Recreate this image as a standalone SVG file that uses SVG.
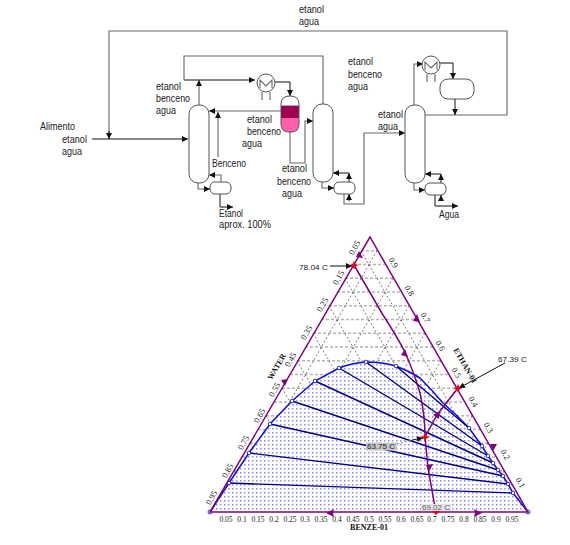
<svg xmlns="http://www.w3.org/2000/svg" width="570" height="545" viewBox="0 0 570 545">
<style>
.t{font-family:"Liberation Sans",Arial,sans-serif;font-size:11px;fill:#222}
.n{font-family:"Liberation Serif","Times New Roman",serif;font-size:7.5px;fill:#222;text-anchor:middle}
.m{font-size:8.5px}
.b{font-family:"Liberation Serif","Times New Roman",serif;font-size:8px;font-weight:bold;fill:#111;text-anchor:middle}
.c{font-family:"Liberation Sans",Arial,sans-serif;font-size:7px;fill:#222}
.l{fill:none;stroke:#666;stroke-width:1.1}
.k{fill:none;stroke:#111;stroke-width:1}
.u{fill:#fff;stroke:#555;stroke-width:1}
.p{fill:none;stroke:#800080;stroke-width:1.5}
.tie{fill:none;stroke:#00008c;stroke-width:1.4}
.e{fill:#fff;stroke:#0000e0;stroke-width:.8}
.pa{fill:#800080}
.s{fill:#f00010}
</style>
<defs>
<marker id="a" viewBox="0 0 6 6" refX="6" refY="3" markerWidth="6" markerHeight="6" orient="auto" markerUnits="userSpaceOnUse"><path d="M0 0L6 3L0 6Z" fill="#111"/></marker>
<pattern id="dots" width="4" height="4" patternUnits="userSpaceOnUse"><rect width="4" height="4" fill="#fff"/><rect width="1.5" height="1.5" fill="#8c8cf8"/></pattern>
</defs>
<g id="connectors">
<path class="l" d="M109 138V31H507V115H425"/>
<path class="k" d="M92 139H188" marker-end="url(#a)"/>
<path class="k" d="M109 131V139" marker-end="url(#a)"/>
<path class="l" d="M199 105V80" marker-end="url(#a)"/>
<path class="k" d="M184 80H255" marker-end="url(#a)"/>
<path class="l" d="M184 80V56H323V104"/>
<path class="k" d="M275 82H290V96" marker-end="url(#a)"/>
<path class="l" d="M281 111H209" marker-end="url(#a)"/>
<path class="l" d="M218 157V112" marker-end="url(#a)"/>
<path class="l" d="M290 132V163H305V121H313" marker-end="url(#a)"/>
<path class="l" d="M198 183V189H210" marker-end="url(#a)"/>
<path class="l" d="M221 182V175H209" marker-end="url(#a)"/>
<path class="k" d="M220 194V207H233" marker-end="url(#a)"/>
<path class="l" d="M322 182V188H334" marker-end="url(#a)"/>
<path class="k" d="M349 182V173" marker-end="url(#a)"/>
<path class="k" d="M349 173H333" marker-end="url(#a)"/>
<path class="k" d="M349 201V194" marker-end="url(#a)"/>
<path class="l" d="M344 194V204H364V133H405" marker-end="url(#a)"/>
<path class="l" d="M414 105V64H423" marker-end="url(#a)"/>
<path class="k" d="M440 63H453V79" marker-end="url(#a)"/>
<path class="k" d="M455 99V115" marker-end="url(#a)"/>
<path class="l" d="M414 183V190H425" marker-end="url(#a)"/>
<path class="k" d="M441 183V174" marker-end="url(#a)"/>
<path class="k" d="M441 174H425" marker-end="url(#a)"/>
<path class="k" d="M441 201V195" marker-end="url(#a)"/>
<path class="k" d="M435 195V206H458" marker-end="url(#a)"/>
</g>
<g id="column-1"><rect class="u" x="189" y="105" width="20" height="78" rx="9"/></g>
<g id="reboiler-1"><rect class="u" x="210" y="182" width="21" height="12" rx="5"/></g>
<g id="condenser-1"><circle class="u" cx="266" cy="83" r="9"/><path class="l" d="M260 88V80L266 86L272 80V88M262 92V100M270 92V100"/></g>
<g id="decanter"><path d="M281 106V104Q281 96 290 96Q299 96 299 104V106Z" fill="#fff" stroke="#555"/><rect x="281" y="106" width="18" height="12" fill="#a00050"/><path d="M281 118H299V124Q299 132 291 132H289Q281 132 281 124Z" fill="#ff60a8"/><path d="M281 106V124Q281 132 289 132H291Q299 132 299 124V106" fill="none" stroke="#555"/></g>
<g id="column-2"><rect class="u" x="313" y="104" width="20" height="78" rx="9"/></g>
<g id="reboiler-2"><rect class="u" x="334" y="182" width="21" height="12" rx="5"/></g>
<g id="column-3"><rect class="u" x="405" y="105" width="20" height="78" rx="9"/></g>
<g id="reboiler-3"><rect class="u" x="425" y="183" width="21" height="12" rx="5"/></g>
<g id="condenser-2"><circle class="u" cx="431" cy="65" r="9"/><path class="l" d="M425 70V62L431 68L437 62V70M427 74V82M435 74V82"/></g>
<g id="drum"><rect class="u" x="440" y="79" width="34" height="20" rx="8"/></g>
<g id="labels">
<text class="t" x="299" y="13" textLength="25" lengthAdjust="spacingAndGlyphs">etanol</text>
<text class="t" x="299" y="25" textLength="20" lengthAdjust="spacingAndGlyphs">agua</text>
<text class="t" x="156" y="90" textLength="25" lengthAdjust="spacingAndGlyphs">etanol</text>
<text class="t" x="156" y="102" textLength="34" lengthAdjust="spacingAndGlyphs">benceno</text>
<text class="t" x="156" y="114" textLength="20" lengthAdjust="spacingAndGlyphs">agua</text>
<text class="t" x="40" y="130" textLength="35" lengthAdjust="spacingAndGlyphs">Alimento</text>
<text class="t" x="62" y="143" textLength="25" lengthAdjust="spacingAndGlyphs">etanol</text>
<text class="t" x="62" y="155" textLength="20" lengthAdjust="spacingAndGlyphs">agua</text>
<text class="t" x="212" y="167" textLength="34" lengthAdjust="spacingAndGlyphs">Benceno</text>
<text class="t" x="219" y="217" textLength="24" lengthAdjust="spacingAndGlyphs" style="font-size:10px">Etanol</text>
<text class="t" x="219" y="228" textLength="52" lengthAdjust="spacingAndGlyphs" style="font-size:10px">aprox. 100%</text>
<text class="t" x="247" y="123" textLength="25" lengthAdjust="spacingAndGlyphs">etanol</text>
<text class="t" x="247" y="135" textLength="34" lengthAdjust="spacingAndGlyphs">benceno</text>
<text class="t" x="242" y="147" textLength="20" lengthAdjust="spacingAndGlyphs">agua</text>
<text class="t" x="282" y="172" textLength="25" lengthAdjust="spacingAndGlyphs">etanol</text>
<text class="t" x="277" y="185" textLength="34" lengthAdjust="spacingAndGlyphs">benceno</text>
<text class="t" x="282" y="197" textLength="20" lengthAdjust="spacingAndGlyphs">agua</text>
<text class="t" x="348" y="65" textLength="25" lengthAdjust="spacingAndGlyphs">etanol</text>
<text class="t" x="348" y="78" textLength="34" lengthAdjust="spacingAndGlyphs">benceno</text>
<text class="t" x="348" y="90" textLength="20" lengthAdjust="spacingAndGlyphs">agua</text>
<text class="t" x="378" y="118" textLength="25" lengthAdjust="spacingAndGlyphs">etanol</text>
<text class="t" x="378" y="130" textLength="20" lengthAdjust="spacingAndGlyphs">agua</text>
<text class="t" x="439" y="218" textLength="20" lengthAdjust="spacingAndGlyphs">Agua</text>
</g>
<path fill="none" stroke="#b4b4b4" stroke-width="1.3" stroke-dasharray="3 2" d="M361 250.75H377M353 264.5H385M345 278.25H393M337 292H401M329 305.75H409M321 319.5H417M313 333.25H425M305 347H433M297 360.75H441M290 374.5H448M282 388.25H456M274 402H464M266 415.75H472M258 429.5H480M250 443.25H488M242 457H496M234 470.75H504M226 484.5H512M218 498.25H520"/>
<path fill="none" stroke="#222" stroke-width=".6" stroke-dasharray="2 2" d="M361 250.75L512 512M345 278.25L480 512M329 305.75L448.5 512M313 333.25L417 512M297 360.75L385 512M282 388L353 512M266 416L321 512M250 443L289.5 512M234 471L258 512M377 250.75L226 512M393 278.25L258 512M409 305.75L289.5 512M425 333.25L321 512M441 360.75L353 512M456 388L385 512M472 416L417 512M488 443L448.5 512M504 471L480 512"/>
<path fill="url(#dots)" d="M210 512L229 483L249 453L270 424L292 401L315 381L339 368L366 362L396 366L420 378L443 403L469 428L482 446L488 456L493 463L498 470L503 476L508 484L513 493L528 512Z"/>
<path fill="none" stroke="#0a0aee" stroke-width="1.5" d="M210 512L229 483L249 453L270 424L292 401L315 381L339 368Q352 363 366 362Q382 362 396 366Q409 371 420 378Q432 390 443 403Q457 415 469 428L482 446L488 456L493 463L498 470L503 476L508 484L513 493L528 512"/>
<path class="tie" d="M229 483L513 493M249 453L508 484M270 424L503 476M292 401L498 470M315 381L493 463M339 368L488 456M366 362L482 446M396 366L469 428"/>
<g>
<circle class="e" cx="229" cy="483" r="1.8"/><circle class="e" cx="249" cy="453" r="1.8"/><circle class="e" cx="270" cy="424" r="1.8"/><circle class="e" cx="292" cy="401" r="1.8"/><circle class="e" cx="315" cy="381" r="1.8"/><circle class="e" cx="339" cy="368" r="1.8"/><circle class="e" cx="366" cy="362" r="1.8"/><circle class="e" cx="396" cy="366" r="1.8"/><circle class="e" cx="469" cy="428" r="1.8"/><circle class="e" cx="482" cy="446" r="1.8"/><circle class="e" cx="488" cy="456" r="1.8"/><circle class="e" cx="493" cy="463" r="1.8"/><circle class="e" cx="498" cy="470" r="1.8"/><circle class="e" cx="503" cy="476" r="1.8"/><circle class="e" cx="508" cy="484" r="1.8"/><circle class="e" cx="513" cy="493" r="1.8"/><circle class="e" cx="210" cy="512" r="2"/><circle class="e" cx="528" cy="512" r="2"/>
</g>
<path class="p" d="M370 237L210 512H528Z"/>
<path class="p" d="M354 265L383 315Q396 335 405 352Q416 378 420 393Q425 415 425 437"/>
<path class="p" d="M458 388L437 415L425 437"/>
<path class="p" d="M425 437L428 468L436 513"/>
<path class="pa" d="M359 251L363 258L356 257ZM417 314L420 322L413 321ZM405 349L408 357L401 355ZM285 386L288 379L281 380ZM493 451L497 444L490 444ZM326 513L334 509L333 513L334 517ZM482 513L474 509L475 513L474 517ZM429 472L433 464L426 465ZM440 411L439 419L433 415Z"/>
<path class="s" d="M354 261L355.500 264L358.500 265L355.500 266.500L354 269.500L352.500 266.500L349.500 265L352.500 264ZM458 384L459.500 387L462.500 388L459.500 389.500L458 392.500L456.500 389.500L453.500 388L456.500 387ZM425 433L426.500 436L429.500 437L426.500 438.500L425 441.500L423.500 438.500L420.500 437L423.500 436ZM432 511H440L436 515Z"/>
<g>
<path class="k" d="M330 266H352" marker-end="url(#a)"/>
<path class="k" d="M505 363L459 388" marker-end="url(#a)"/>
<path fill="none" stroke="#888" stroke-dasharray="2 2" d="M397 444L412 440"/>
<path class="k" d="M412 440L423 438" marker-end="url(#a)"/>
<rect x="366" y="442.500" width="31" height="8" fill="#c8c8c8"/>
<rect x="421" y="504" width="30" height="7" fill="#e4e4e4"/>
<text class="c" x="299" y="270" textLength="29" lengthAdjust="spacingAndGlyphs">78.04 C</text>
<text class="c" x="498" y="362" textLength="29" lengthAdjust="spacingAndGlyphs">67.39 C</text>
<text class="c" x="367" y="449" textLength="28" lengthAdjust="spacingAndGlyphs">63.75 C</text>
<text class="c" x="422" y="510" textLength="28" lengthAdjust="spacingAndGlyphs" style="fill:#666">69.02 C</text>
</g>
<g>
<text class="n" x="226" y="522">0.05</text><text class="n" x="242" y="522">0.1</text><text class="n" x="258" y="522">0.15</text><text class="n" x="274" y="522">0.2</text><text class="n" x="290" y="522">0.25</text><text class="n" x="305" y="522">0.3</text><text class="n" x="321" y="522">0.35</text><text class="n" x="337" y="522">0.4</text><text class="n" x="353" y="522">0.45</text><text class="n" x="369" y="522">0.5</text><text class="n" x="385" y="522">0.55</text><text class="n" x="401" y="522">0.6</text><text class="n" x="417" y="522">0.65</text><text class="n" x="432" y="522">0.7</text><text class="n" x="448" y="522">0.75</text><text class="n" x="464" y="522">0.8</text><text class="n" x="480" y="522">0.85</text><text class="n" x="496" y="522">0.9</text><text class="n" x="512" y="522">0.95</text>
<text class="n m" transform="translate(357 249) rotate(-60)">0.05</text>
<text class="n m" transform="translate(341 279) rotate(-60)">0.15</text>
<text class="n m" transform="translate(325 306) rotate(-60)">0.25</text>
<text class="n m" transform="translate(309 334) rotate(-60)">0.35</text>
<text class="n m" transform="translate(293 361) rotate(-60)">0.45</text>
<text class="n m" transform="translate(277 391) rotate(-60)">0.55</text>
<text class="n m" transform="translate(262 417) rotate(-60)">0.65</text>
<text class="n m" transform="translate(246 444) rotate(-60)">0.75</text>
<text class="n m" transform="translate(230 472) rotate(-60)">0.85</text>
<text class="n m" transform="translate(214 499) rotate(-60)">0.95</text>
<text class="n m" transform="translate(391 264) rotate(60)">0.9</text>
<text class="n m" transform="translate(407 292) rotate(60)">0.8</text>
<text class="n m" transform="translate(423 319) rotate(60)">0.7</text>
<text class="n m" transform="translate(438 347) rotate(60)">0.6</text>
<text class="n m" transform="translate(454 374) rotate(60)">0.5</text>
<text class="n m" transform="translate(471 403) rotate(60)">0.4</text>
<text class="n m" transform="translate(486 429) rotate(60)">0.3</text>
<text class="n m" transform="translate(503 456) rotate(60)">0.2</text>
<text class="n m" transform="translate(518 484) rotate(60)">0.1</text>
<text class="b" transform="translate(279 368) rotate(-60)">WATER</text>
<text class="b" transform="translate(463 367) rotate(60)">ETHAN-01</text>
<text class="b" x="369" y="530">BENZE-01</text>
</g>
</svg>
